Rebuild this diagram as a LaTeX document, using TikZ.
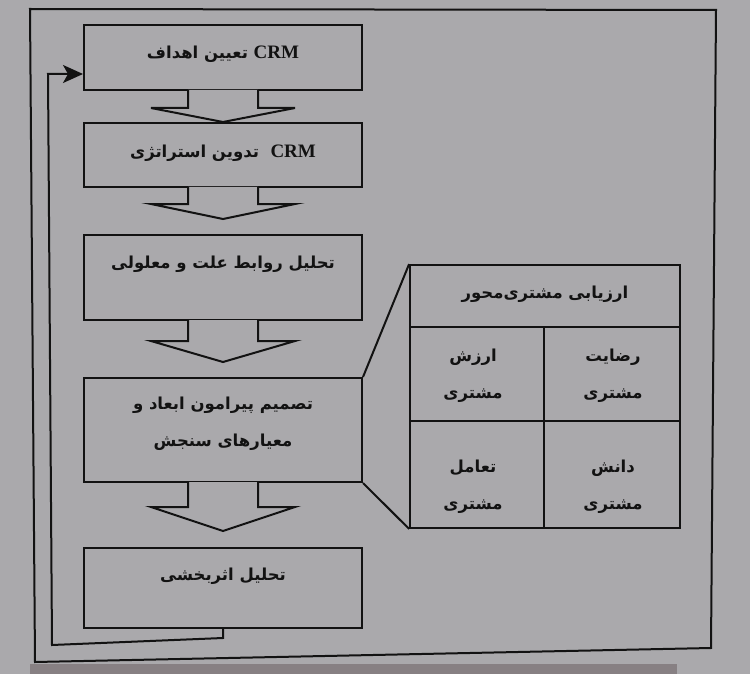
\documentclass[tikz,border=0pt]{standalone}
\usepackage{fontspec}
\usetikzlibrary{arrows.meta}
\TeXXeTstate=1
\newfontfamily\fa[Script=Arabic]{DejaVu Sans}
\newfontfamily\crm{Liberation Serif}
\definecolor{bg}{RGB}{170,169,172}
\definecolor{strip}{RGB}{135,128,131}
\definecolor{ink}{RGB}{18,18,18}
\newcommand{\barrow}[3]{%
  \draw[blockarrow] ([xshift=-35pt,yshift=1pt]#1.south) -- ++(0,#3+1) -- ++(-37,0) coordinate (hl) -- (#2) -- ([xshift=144pt]hl) -- ++(-37,0) -- ++(0,-#3-1);}
\newcommand{\crmtext}{{\crm\bfseries\fontsize{19}{19}\selectfont CRM}}
\begin{document}
\begin{tikzpicture}[x=1pt,y=-1pt,
  box/.style={draw=ink, line width=2pt, minimum width=278pt, inner sep=0pt},
  cell/.style={draw=ink, line width=1.8pt, inner sep=0pt},
  lbl/.style={font=\fa\bfseries\fontsize{16.5}{19}\selectfont, align=center, text=ink, inner sep=0pt},
  lbltwo/.style={font=\fa\bfseries\fontsize{16.5}{37}\selectfont, align=center, text=ink, inner sep=0pt},
  ln/.style={draw=ink, line width=2pt, line join=miter},
  blockarrow/.style={draw=ink, fill=bg, line width=2pt, line join=miter}]
\fill[bg] (0,0) rectangle (750,674);
\fill[strip] (30,664) rectangle (677,674);
\useasboundingbox (0,0) rectangle (750,674);

% outer frame
\draw[ln] (30,9) -- (716,10) -- (711,648) -- (35,662) -- cycle;

% boxes
\node[box, minimum height=65pt] (b1) at (223,57.5) {};
\node[box, minimum height=64pt] (b2) at (223,155) {};
\node[box, minimum height=85pt] (b3) at (223,277.5) {};
\node[box, minimum height=104pt] (b4) at (223,430) {};
\node[box, minimum height=80pt] (b5) at (223,588) {};

% block arrows
\barrow{b1}{b2.north}{17}
\barrow{b2}{[yshift=15pt]b3.north}{16}
\barrow{b3}{[yshift=15pt]b4.north}{20}
\barrow{b4}{[yshift=16pt]b5.north}{24}

% labels
\node[lbl] (t1) at (223,54) {\beginR\beginL\crmtext\endL{} تعیین اهداف\endR};
\node[lbl] (t2) at (223,153) {\beginR\beginL\crmtext\endL{}\ \ تدوین استراتژی\endR};
\node[lbl] (t3) at (223,264) {\beginR تحلیل روابط علت و معلولی\endR};
\node[lbltwo] (t4) at (223,424) {\beginR تصمیم پیرامون ابعاد و\endR\\\beginR معیارهای سنجش\endR};
\node[lbl] (t5) at (223,576) {\beginR تحلیل اثربخشی\endR};

% table
\node[cell, minimum width=270pt, minimum height=62pt] (hd) at (545,296) {};
\node[cell, minimum width=134pt, minimum height=94pt] (tl) at (477,374) {};
\node[cell, minimum width=136pt, minimum height=94pt] (tr) at (612,374) {};
\node[cell, minimum width=134pt, minimum height=107pt] (bl) at (477,474.5) {};
\node[cell, minimum width=136pt, minimum height=107pt] (br) at (612,474.5) {};
\node[lbl] (th) at (545,294) {\beginR ارزیابی مشتری^^^^200cمحور\endR};
\node[lbltwo] (ttl) at (473,376) {\beginR ارزش\endR\\\beginR مشتری\endR};
\node[lbltwo] (ttr) at (613,376) {\beginR رضایت\endR\\\beginR مشتری\endR};
\node[lbltwo] (tbl) at (473,487) {\beginR تعامل\endR\\\beginR مشتری\endR};
\node[lbltwo] (tbr) at (613,487) {\beginR دانش\endR\\\beginR مشتری\endR};

% zoom lines
\draw[ln] (b4.north east) -- (hd.north west);
\draw[ln] (b4.south east) -- (bl.south west);

% feedback loop
\coordinate (f1) at (223,638);
\coordinate (f2) at (52,645);
\coordinate (f3) at (48,74);
\draw[ln, -{Stealth[length=20pt,width=18pt,inset=5pt]}] (b5.south) -- (f1) -- (f2) -- (f3) -- (f3 -| b1.west);
\end{tikzpicture}
\end{document}
